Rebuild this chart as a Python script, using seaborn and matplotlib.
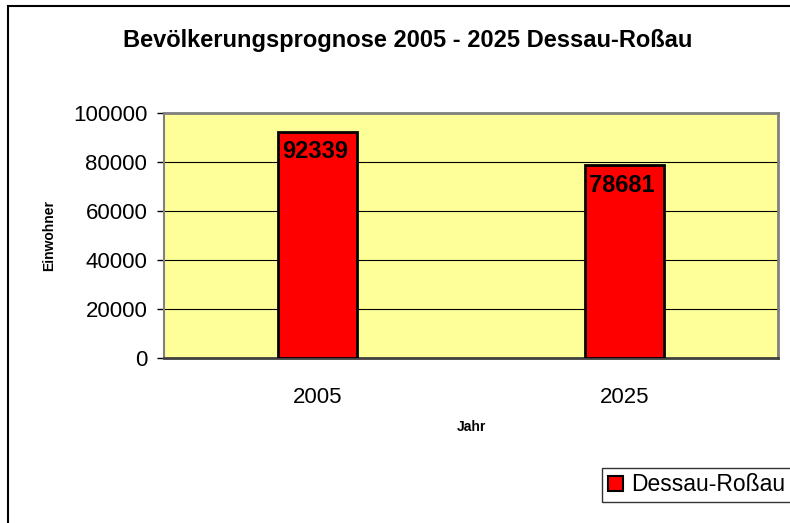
import matplotlib
matplotlib.use("Agg")
import matplotlib.pyplot as plt
import seaborn as sns
import pandas as pd
from matplotlib.patches import Rectangle, Patch

years = ["2005", "2025"]
values = [92339, 78681]
series = "Dessau-Roßau"
title = "Bevölkerungsprognose 2005 - 2025 Dessau-Roßau"
yticks = [0, 20000, 40000, 60000, 80000, 100000]

sns.set_theme(style="white")
plt.rcParams["font.family"] = ["Liberation Sans", "DejaVu Sans"]
plt.rcParams["text.color"] = "black"
plt.rcParams["axes.labelcolor"] = "black"
plt.rcParams["xtick.color"] = "black"
plt.rcParams["ytick.color"] = "black"

df = pd.DataFrame({"Jahr": years, "Einwohner": values})

W, H = 790, 523
fig = plt.figure(figsize=(W / 100, H / 100), dpi=100)
fig.patch.set_facecolor("white")
# figure border (extends beyond right/bottom like the source)
fig.patches.append(Rectangle((8 / W, -0.1), 1.2, (H - 6) / H + 0.1,
                             transform=fig.transFigure, fill=False,
                             edgecolor="black", linewidth=1.5, zorder=0))

ax_l, ax_r, ax_t, ax_b = 164, 778, 113, 358
ax = fig.add_axes([ax_l / W, 1 - ax_b / H, (ax_r - ax_l) / W, (ax_b - ax_t) / H])
ax.set_facecolor("#FFFF99")

sns.barplot(data=df, x="Jahr", y="Einwohner", ax=ax, color="#FF0000",
            width=0.26, edgecolor="black", linewidth=2, saturation=1, zorder=3)

ax.set_xlim(-0.5, 1.5)
ax.set_ylim(0, 100000)
ax.set_yticks(yticks)
ax.set_yticklabels([str(v) for v in yticks], fontsize=16)
ax.yaxis.grid(True, color="black", linewidth=0.8, zorder=1)
ax.set_axisbelow(True)

ax.set_xticks([0, 1])
ax.set_xticklabels(years, fontsize=16)
ax.tick_params(axis="x", length=0, pad=21)
# category boundary ticks
ax.set_xticks([-0.5, 0.5, 1.5], minor=True)
ax.tick_params(axis="x", which="minor", length=5, width=1, color="black", direction="out")
ax.tick_params(axis="y", length=5, width=1, color="black", direction="out", left=True, pad=7)

for side in ["top", "right"]:
    ax.spines[side].set_color("#808080")
    ax.spines[side].set_linewidth(2)
ax.spines["left"].set_color("#808080")
ax.spines["left"].set_linewidth(1.5)
ax.spines["bottom"].set_color("#404040")
ax.spines["bottom"].set_linewidth(2)

ax.set_xlabel("Jahr", fontsize=10, fontweight="bold")
ax.xaxis.set_label_coords(0.5, (ax_b - 427) / (ax_b - ax_t))
ax.xaxis.label.set_va("center")
ax.set_ylabel("Einwohner", fontsize=10, fontweight="bold")
ax.yaxis.set_label_coords((49 - ax_l) / (ax_r - ax_l), 0.5)
ax.yaxis.label.set_va("center")

for i, v in enumerate(values):
    ax.annotate(str(v), (i, v), xytext=(-2, -6), textcoords="offset points",
                ha="center", va="top", fontsize=17, fontweight="bold", zorder=5)

fig.text(408 / W, 1 - 40 / H, title, ha="center", va="center",
         fontsize=17, fontweight="bold")

handle = Patch(facecolor="#FF0000", edgecolor="black", linewidth=1.5)
leg = fig.legend([handle], [series], loc="lower left",
                 bbox_to_anchor=(602 / W, 1 - 502 / H), fontsize=16.5,
                 frameon=True, fancybox=False, handlelength=0.65, handleheight=0.65,
                 handletextpad=0.35, borderpad=0.25, borderaxespad=0)
leg.get_frame().set_edgecolor("black")
leg.get_frame().set_linewidth(1)

fig.savefig("out.png", dpi=100)
